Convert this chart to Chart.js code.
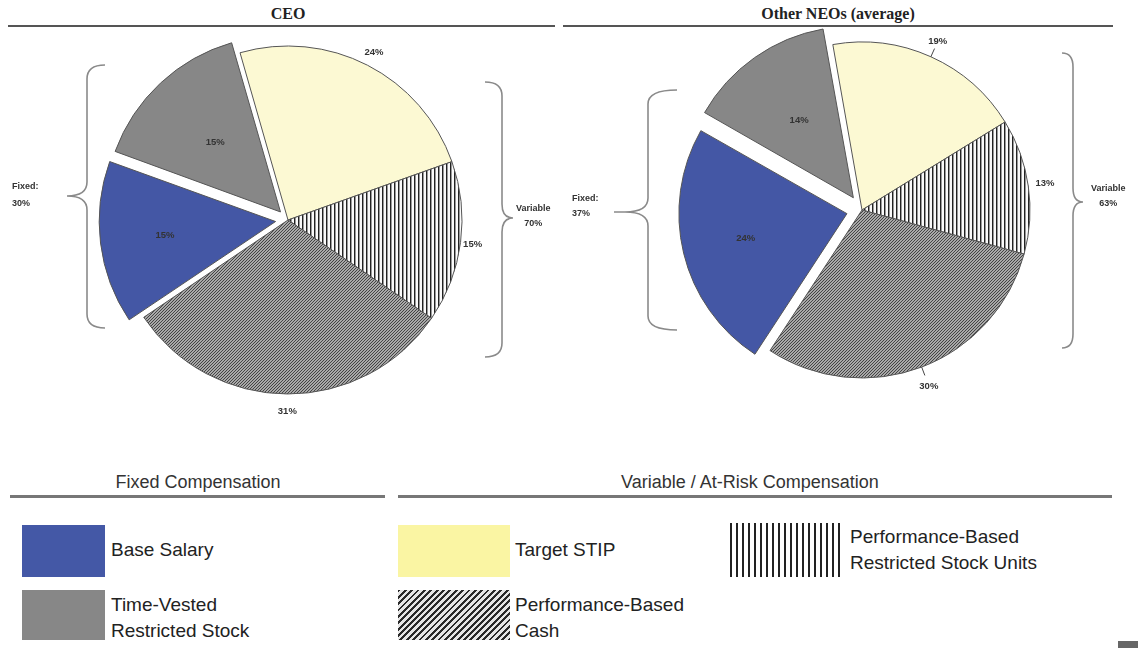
<!DOCTYPE html>
<html>
<head>
<meta charset="utf-8">
<script src="https://cdn.jsdelivr.net/npm/chart.js@4.4.1/dist/chart.umd.min.js"></script>
<style>
body { margin:0; background:#fff; }
#page { position:relative; width:1138px; height:648px; overflow:hidden; background:#fff; font-family:Arial, "Liberation Sans", sans-serif; color:#222; }
.abs { position:absolute; }
.ttl { font-family:"Liberation Serif", "Times New Roman", serif; font-weight:bold; font-size:16px; color:#222; text-align:center; }
.hline { position:absolute; background:#555; }
.small { font-size:9px; font-weight:bold; color:#333; line-height:17px; }
.lg { font-size:19px; line-height:26px; color:#222; }
.box { position:absolute; }
canvas { position:absolute; }
</style>
</head>
<body>
<div id="page">
  <div class="abs ttl" style="left:188px; top:5px; width:200px;">CEO</div>
  <div class="hline" style="left:8px; top:25px; width:547px; height:2px;"></div>
  <div class="abs ttl" style="left:688px; top:5px; width:300px;">Other NEOs (average)</div>
  <div class="hline" style="left:563px; top:25px; width:550px; height:2px;"></div>

  <canvas id="ceo_chart" width="460" height="460" style="left:58px; top:-10px;"></canvas>
  <canvas id="neo_chart" width="460" height="460" style="left:632px; top:-20px;"></canvas>

  <svg class="abs" style="left:0; top:0;" width="1138" height="420" id="braces"></svg>

  <div class="abs small" id="ceo_fixed" style="left:12px; top:178px;"></div>
  <div class="abs small" id="ceo_var" style="left:516px; top:201px; text-align:center; line-height:15px;"></div>
  <div class="abs small" id="neo_fixed" style="left:572px; top:191px; line-height:15px;"></div>
  <div class="abs small" id="neo_var" style="left:1091px; top:181px; text-align:center; line-height:15px;"></div>

  <div class="abs lg" style="left:10px; top:469px; width:376px; text-align:center; color:#333; font-size:18px;">Fixed Compensation</div>
  <div class="hline" style="left:10px; top:495px; width:375px; height:3px; background:#777;"></div>
  <div class="abs lg" style="left:398px; top:469px; width:704px; text-align:center; color:#333; font-size:18px;">Variable / At-Risk Compensation</div>
  <div class="hline" style="left:398px; top:495px; width:714px; height:3px; background:#777;"></div>

  <div class="box" style="left:22px; top:525px; width:83px; height:52px; background:#4458a6;"></div>
  <div class="abs lg" style="left:111px; top:537px;" id="lg_base"></div>
  <div class="box" style="left:22px; top:590px; width:83px; height:50px; background:#878787;"></div>
  <div class="abs lg" style="left:111px; top:592px;" id="lg_tvrs"></div>

  <div class="box" style="left:398px; top:525px; width:112px; height:52px; background:#faf5a3;"></div>
  <div class="abs lg" style="left:515px; top:537px;" id="lg_stip"></div>
  <div class="box" style="left:398px; top:590px; width:112px; height:50px; background:repeating-linear-gradient(135deg, #2a2a2a 0 2px, #e6e6e6 2px 4.5px);"></div>
  <div class="abs lg" style="left:515px; top:592px;" id="lg_pbc"></div>

  <div class="box" style="left:730px; top:523px; width:110px; height:54px; background:repeating-linear-gradient(90deg, #222 0 2px, #fff 2px 6px);"></div>
  <div class="abs lg" style="left:850px; top:524px;" id="lg_prsu"></div>

  <div class="box" style="left:1118px; top:641px; width:20px; height:7px; background:#666;"></div>
</div>

<script>
// slice order, clockwise from the top
categories = ['Target STIP', 'Performance-Based Restricted Stock Units', 'Performance-Based Cash', 'Base Salary', 'Time-Vested Restricted Stock'];
legend_text = ['Target STIP', 'Performance-Based<br>Restricted Stock Units', 'Performance-Based<br>Cash', 'Base Salary', 'Time-Vested<br>Restricted Stock'];
ceo_values = [24, 15, 31, 15, 15];
neo_values = [19, 13, 30, 24, 14];
ceo_split = [30, 70];   // fixed, variable
neo_split = [37, 63];

function make_stripes() {
    const c = document.createElement('canvas');
    c.width = 4; c.height = 4;
    const x = c.getContext('2d');
    x.fillStyle = '#fafafa';
    x.fillRect(0, 0, 4, 4);
    x.fillStyle = '#222';
    x.fillRect(0, 0, 1, 4);
    x.fillStyle = '#999';
    x.fillRect(1, 0, 1, 4);
    return x.createPattern(c, 'repeat');
}

function make_hatch() {
    const c = document.createElement('canvas');
    c.width = 3; c.height = 3;
    const x = c.getContext('2d');
    x.fillStyle = '#a8a8a8';
    x.fillRect(0, 0, 3, 3);
    x.fillStyle = '#444';
    for (let i = 0; i < 3; i++) x.fillRect(i, 2 - i, 1, 1);
    return x.createPattern(c, 'repeat');
}

pct_labels = {
    id: 'pct_labels',
    afterDatasetsDraw(chart, args, opts) {
        const ctx = chart.ctx;
        const meta = chart.getDatasetMeta(0);
        const ds = chart.data.datasets[0];
        ctx.save();
        ctx.font = 'bold 9.5px Arial';
        ctx.fillStyle = '#333';
        ctx.strokeStyle = '#444';
        ctx.lineWidth = 1;
        ctx.textAlign = 'center';
        ctx.textBaseline = 'middle';
        meta.data.forEach((arc, i) => {
            const p = arc.getProps(['x', 'y', 'startAngle', 'endAngle', 'outerRadius']);
            const mid = (p.startAngle + p.endAngle) / 2;
            // chart.js draws the arc shifted by offset / 4
            const off = (ds.offset[i] || 0) / 4;
            const d = p.outerRadius * opts.dist[i] + off;
            if (opts.leaders.indexOf(i) >= 0) {
                ctx.beginPath();
                ctx.moveTo(p.x + Math.cos(mid) * p.outerRadius, p.y + Math.sin(mid) * p.outerRadius);
                ctx.lineTo(p.x + Math.cos(mid) * (p.outerRadius + 9), p.y + Math.sin(mid) * (p.outerRadius + 9));
                ctx.stroke();
            }
            ctx.fillText(ds.data[i] + '%', p.x + Math.cos(mid) * d, p.y + Math.sin(mid) * d);
        });
        ctx.restore();
    }
};

function write_pie(id, values, rotation, radius, offsets, dist, leaders) {
    const ctx = document.getElementById(id);
    const data = {
        labels: categories,
        datasets: [{
            data: values,
            backgroundColor: ['#fcf9d3', make_stripes(), make_hatch(), '#4457a5', '#878787'],
            borderColor: '#555',
            borderWidth: 1,
            offset: offsets
        }]
    };
    const config = {
        type: 'pie',
        data: data,
        options: {
            responsive: false,
            animation: false,
            rotation: rotation,
            radius: radius,
            layout: { padding: 0 },
            plugins: {
                legend: { display: false },
                tooltip: { enabled: false },
                pct_labels: { dist: dist, leaders: leaders }
            }
        },
        plugins: [pct_labels]
    };
    return new Chart(ctx, config);
}

function brace_path(tx, ty, vx, ex, y1, y2) {
    const r = 14;
    return 'M' + ex + ',' + y1 + ' Q' + vx + ',' + y1 + ' ' + vx + ',' + (y1 + r) +
        ' L' + vx + ',' + (ty - r) + ' Q' + vx + ',' + ty + ' ' + tx + ',' + ty +
        ' Q' + vx + ',' + ty + ' ' + vx + ',' + (ty + r) +
        ' L' + vx + ',' + (y2 - r) + ' Q' + vx + ',' + y2 + ' ' + ex + ',' + y2;
}

function draw_braces() {
    const svg = document.getElementById('braces');
    const paths = [
        brace_path(67, 196, 87, 105, 65, 328),
        brace_path(513, 218, 502, 485, 82, 357),
        brace_path(625, 212, 648, 677, 90, 330) + ' M625,212 L614,212',
        brace_path(1083, 202, 1073, 1062, 53, 348)
    ];
    let html = '';
    paths.forEach((d) => {
        html += '<path d="' + d + '" fill="none" stroke="#8a8a8a" stroke-width="1.6"/>';
    });
    svg.innerHTML = html;
}

document.getElementById('ceo_fixed').innerHTML = 'Fixed:<br>' + ceo_split[0] + '%';
document.getElementById('ceo_var').innerHTML = 'Variable<br>' + ceo_split[1] + '%';
document.getElementById('neo_fixed').innerHTML = 'Fixed:<br>' + neo_split[0] + '%';
document.getElementById('neo_var').innerHTML = 'Variable<br>' + neo_split[1] + '%';

document.getElementById('lg_stip').innerHTML = legend_text[0];
document.getElementById('lg_prsu').innerHTML = legend_text[1];
document.getElementById('lg_pbc').innerHTML = legend_text[2];
document.getElementById('lg_base').innerHTML = legend_text[3];
document.getElementById('lg_tvrs').innerHTML = legend_text[4];

draw_braces();
ceo_chart = write_pie('ceo_chart', ceo_values, -16, 174, [0, 0, 0, 50, 44], [1.08, 1.07, 1.1, 0.64, 0.55], []);
neo_chart = write_pie('neo_chart', neo_values, -10, 168, [0, 0, 0, 62, 60], [1.1, 1.1, 1.12, 0.62, 0.56], [0, 2]);
</script>
</body>
</html>
